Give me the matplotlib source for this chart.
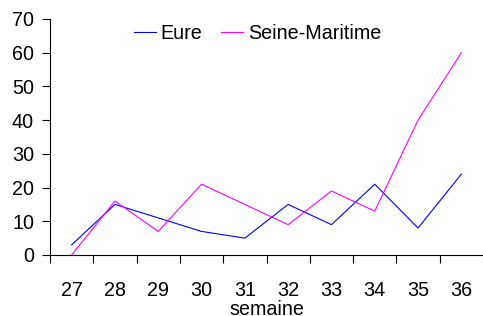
import matplotlib
matplotlib.use("Agg")
import matplotlib.pyplot as plt
import numpy as np

plt.rcParams['font.family'] = ['Liberation Sans', 'DejaVu Sans']

semaines = ['27', '28', '29', '30', '31', '32', '33', '34', '35', '36']
eure = [3, 15, 11, 7, 5, 15, 9, 21, 8, 24]
seine_maritime = [0, 16, 7, 21, 15, 9, 19, 13, 40, 60]

fs = 14.2
fig = plt.figure(figsize=(4.83, 3.16), dpi=100)
ax = fig.add_axes([50/483, 61/316, 433/483, 236/316])

x = np.arange(len(semaines))
ax.plot(x, eure, color='#0000ff', lw=0.8, label='Eure')
ax.plot(x, seine_maritime, color='#ff00ff', lw=0.8, label='Seine-Maritime')

ax.set_xlim(-0.5, len(semaines) - 0.5)
ax.set_ylim(0, 70)
ax.set_yticks(range(0, 71, 10))
ax.set_xticks(x)
ax.set_xticklabels(semaines)
ax.set_xticks(np.arange(-0.5, len(semaines)), minor=True)
ax.tick_params(axis='x', which='major', length=0, pad=19, labelsize=fs)
ax.tick_params(axis='x', which='minor', length=5.5, width=0.8, direction='out')
ax.tick_params(axis='y', length=5.5, width=0.8, pad=6, labelsize=fs)
for s in ['top', 'right']:
    ax.spines[s].set_visible(False)
for s in ['left', 'bottom']:
    ax.spines[s].set_linewidth(0.8)
ax.spines['bottom'].set_clip_on(False)

ax.set_xlabel('semaine', fontsize=fs, labelpad=0)

ax.legend(loc='upper center', bbox_to_anchor=(0.479, 1.055), ncol=2, frameon=False,
          fontsize=fs, handlelength=1.1, handletextpad=0.25, columnspacing=0.95)

fig.savefig('out.png', dpi=100)
